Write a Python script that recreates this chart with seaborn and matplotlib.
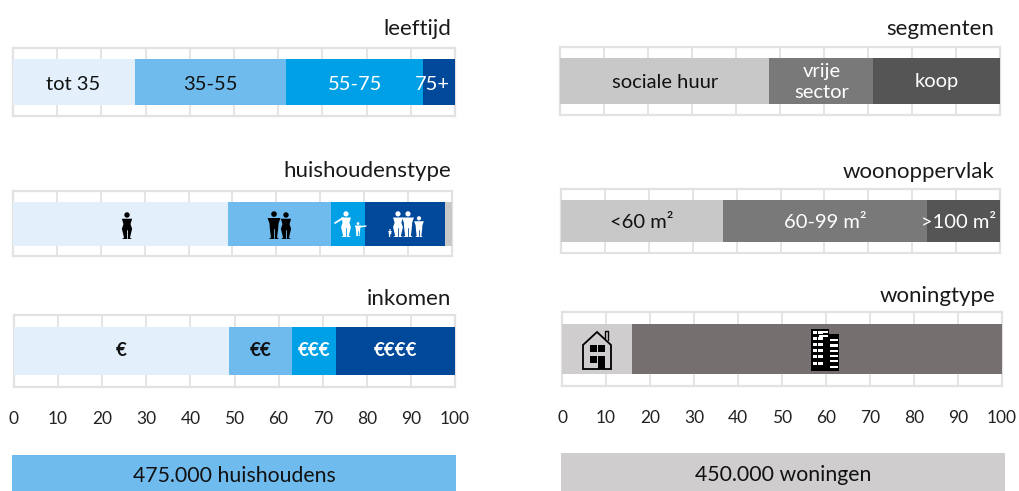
import numpy as np
import seaborn as sns
import matplotlib.pyplot as plt
from matplotlib.patches import Circle, Polygon, Rectangle

W, H = 1020, 491

# waarden (aandeel in %)
leeftijd = [27.6, 34.2, 31.0, 7.2]
huishoudenstype = [49.0, 23.4, 7.7, 18.2, 1.7]
inkomen = [48.8, 14.2, 10.0, 27.0]
segmenten = [47.6, 23.6, 28.8]
woonoppervlak = [36.9, 46.5, 16.6]
woningtype = [15.9, 84.1]

leeftijd_labels = ['tot 35', '35-55', '55-75', '75+']
huishoudenstype_labels = ['', '', '', '', '']
inkomen_labels = ['€', '€€', '€€€', '€€€€']
segmenten_labels = ['sociale huur', 'vrije\nsector', 'koop']
woonoppervlak_labels = ['<60 m²', '60-99 m²', '>100 m²']
woningtype_labels = ['', '']
x_ticks = [0, 10, 20, 30, 40, 50, 60, 70, 80, 90, 100]

BLUES = ['#E3F0FB', '#6FBBEE', '#00A0E6', '#00489A', '#C8C8C8']
GREYS = ['#C8C8C8', '#797979', '#555555']
HOUSE_GREYS = ['#CFCDCE', '#75706F']
GRID = '#E2E2E2'

sns.set_theme(style='white')
plt.rcParams['font.family'] = ['Lato', 'DejaVu Sans']

fig = plt.figure(figsize=(W / 100, H / 100), dpi=100)

# laag in pixels voor titels, iconen en de balken onderaan
over = fig.add_axes([0, 0, 1, 1], zorder=10)
over.set_xlim(0, W)
over.set_ylim(H, 0)
over.axis('off')


def make_axes(x0, x1, y0, y1):
    return fig.add_axes([x0 / W, 1 - y1 / H, (x1 - x0) / W, (y1 - y0) / H])


def stacked(box, bar_h, values, labels, colors, text_colors, title, title_x,
            title_y, size=14.5, weight='normal', shift=None, dy=0,
            ticks=False):
    ax = make_axes(*box)
    cum = np.cumsum(values)
    # langste balk eerst, de kortere eroverheen
    for i in range(len(values) - 1, -1, -1):
        sns.barplot(x=[cum[i]], y=[title], color=colors[i], saturation=1,
                    width=bar_h / (box[3] - box[2]), orient='h', ax=ax,
                    linewidth=0, zorder=3)
    ax.set_xlim(0, 100)
    ax.set_ylim(0.5, -0.5)
    ax.set_xlabel('')
    ax.set_ylabel('')
    ax.set_yticks([])
    ax.set_xticks(x_ticks)
    ax.set_xticklabels(x_ticks if ticks else [], fontsize=12.5,
                       color='#222222')
    ax.tick_params(axis='x', length=0, pad=17)
    ax.grid(axis='x', color=GRID, lw=1.3, zorder=0)
    for sp in ax.spines.values():
        sp.set_visible(True)
        sp.set_color(GRID)
        sp.set_linewidth(1.6)
    starts = cum - np.array(values)
    for i, lab in enumerate(labels):
        if not lab:
            continue
        dx = shift[i] if shift else 0
        ax.annotate(lab, (starts[i] + values[i] / 2, 0),
                    xytext=(dx * 0.72, -dy * 0.72),
                    textcoords='offset points', ha='center', va='center',
                    fontsize=size, fontweight=weight, color=text_colors[i],
                    zorder=5, linespacing=1.3)
    over.text(title_x, title_y, title, ha='right', va='center', fontsize=16,
              color='#1a1a1a')
    return ax


def person(cx, top, s, color, bg, woman=False):
    over.add_patch(Circle((cx, top + 0.11 * s), 0.1 * s, color=color, lw=0))
    sh = 0.19 * s if woman else 0.23 * s
    waist = 0.13 * s if woman else 0.16 * s
    hip = 0.19 * s if woman else 0.15 * s
    pts = [(cx - sh, top + 0.25 * s), (cx + sh, top + 0.25 * s),
           (cx + waist, top + 0.45 * s), (cx + hip, top + 0.62 * s),
           (cx + 0.11 * s, top + 0.95 * s), (cx + 0.18 * s, top + s),
           (cx - 0.18 * s, top + s), (cx - 0.11 * s, top + 0.95 * s),
           (cx - hip, top + 0.62 * s), (cx - waist, top + 0.45 * s)]
    over.add_patch(Polygon(pts, closed=True, color=color, lw=0))
    over.plot([cx, cx], [top + 0.66 * s, top + 0.96 * s], color=bg, lw=0.6)


def house(cx):
    top, bot = 332, 369
    over.add_patch(Polygon([(cx - 14, bot), (cx - 14, top + 13), (cx, top),
                            (cx + 14, top + 13), (cx + 14, bot)], closed=True,
                           fc='none', ec='black', lw=1.3))
    over.plot([cx + 8, cx + 8, cx + 11, cx + 11],
              [top + 6, top - 1, top - 1, top + 8], color='black', lw=1)
    for dx, y in [(-7, 345), (1, 345), (-7, 356)]:
        over.add_patch(Rectangle((cx + dx, y), 7, 7, color='black', lw=0))
    over.add_patch(Rectangle((cx + 1, 356), 7, 13, color='black', lw=0))


def building(cx):
    over.add_patch(Rectangle((cx - 14, 329), 18, 42, color='black', lw=0))
    over.add_patch(Rectangle((cx + 4, 334), 10, 37, color='black', lw=0))
    for i in range(6):
        y = 331 + i * 6.1
        over.add_patch(Rectangle((cx - 11.5, y), 10, 3, color='white', lw=0))
        over.add_patch(Rectangle((cx - 8, y), 1, 3, color='black', lw=0))
    for i in range(6):
        y = 339 + i * 5.3
        over.add_patch(Rectangle((cx + 5.5, y), 8, 2.2, color='white', lw=0))
    over.add_patch(Rectangle((cx - 6, 331), 9, 2, color='white', lw=0))
    over.add_patch(Rectangle((cx - 6, 335), 9, 2, color='white', lw=0))


stacked((13, 455, 48, 116), 46, leeftijd, leeftijd_labels, BLUES,
        ['#111111', '#111111', 'white', 'white'], 'leeftijd', 451, 29,
        shift=[-1, 0, 0, -7], dy=3)
stacked((13, 452, 191, 256), 44, huishoudenstype, huishoudenstype_labels,
        BLUES, ['k'] * 5, 'huishoudenstype', 451, 171)
stacked((14, 455, 315, 387), 48, inkomen, inkomen_labels, BLUES,
        ['#111111', '#111111', 'white', 'white'], 'inkomen', 451, 299,
        size=13.5, weight='bold', ticks=True)
stacked((560, 1000, 47, 115), 46, segmenten, segmenten_labels, GREYS,
        ['#111111', 'white', 'white'], 'segmenten', 994, 29, dy=1)
stacked((561, 1000, 189, 253), 43, woonoppervlak, woonoppervlak_labels, GREYS,
        ['#111111', 'white', 'white'], 'woonoppervlak', 994, 172,
        shift=[0, 0, -5], dy=1)
stacked((562, 1002, 312, 386), 50, woningtype, woningtype_labels, HOUSE_GREYS,
        ['k', 'k'], 'woningtype', 995, 296, ticks=True)

# iconen
person(127, 212, 27, 'black', BLUES[0], woman=True)
person(274, 211, 28, 'black', BLUES[1])
person(286, 212, 27, 'black', BLUES[1], woman=True)
person(346, 211, 26, 'white', BLUES[2], woman=True)
over.plot([335, 343], [223, 218], color='white', lw=1.3)
person(358, 222, 14, 'white', BLUES[2])
over.plot([358, 366], [227, 226], color='white', lw=1)
person(398, 211, 26, 'white', BLUES[3], woman=True)
person(408, 211, 26, 'white', BLUES[3])
person(419, 216, 21, 'white', BLUES[3])
person(390, 229, 8, 'white', BLUES[3])
house(597)
building(825)

# balken onderaan
over.add_patch(Rectangle((12, 455), 444, 36, color='#70BBEE', lw=0))
over.add_patch(Rectangle((561, 453), 444, 38, color='#CFCDCE', lw=0))
over.text(234, 476, '475.000 huishoudens', ha='center', va='center',
          fontsize=15.3, color='#111111')
over.text(783, 475, '450.000 woningen', ha='center', va='center',
          fontsize=15.3, color='#111111')

fig.savefig('out.png', dpi=100)
